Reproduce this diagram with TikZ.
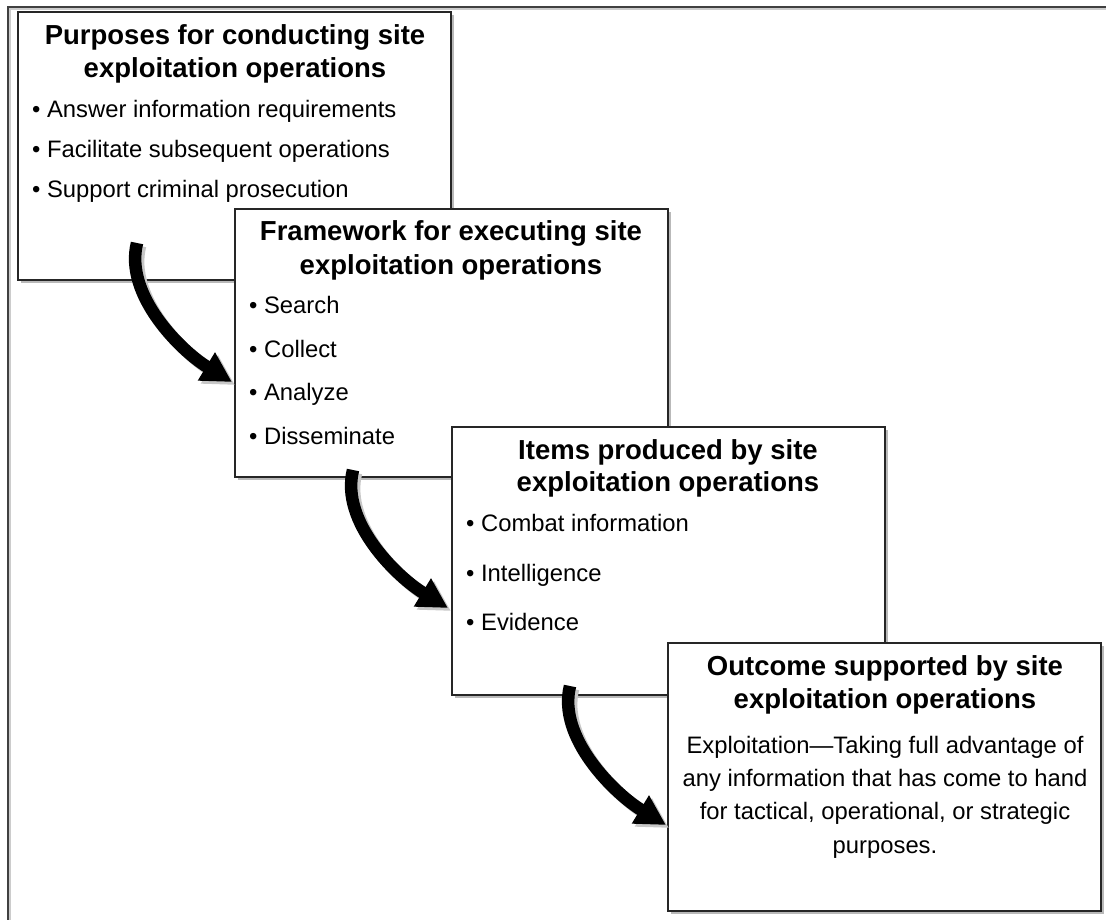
\documentclass[tikz,border=0pt]{standalone}
\usepackage{fontspec}
\setmainfont{Liberation Sans}
\usetikzlibrary{arrows.meta,shadows,calc}
\begin{document}
\begin{tikzpicture}[x=1pt,y=-1pt,
  box/.style={draw=black!85, line width=1.3pt, fill=white, inner sep=0pt, outer sep=0pt,
    anchor=north west, minimum width=433pt, minimum height=268pt,
    drop shadow={shadow xshift=3pt, shadow yshift=-3pt, fill=black!50, opacity=0.55}},
  ttl/.style={font=\fontsize{27.5}{33}\selectfont\bfseries, anchor=base, inner sep=0pt},
  itm/.style={font=\fontsize{23.8}{33}\selectfont, anchor=base west, inner sep=0pt},
  ctr/.style={font=\fontsize{23.8}{33}\selectfont, anchor=base, inner sep=0pt},
  flow/.style={line width=12.5pt, draw=black, -{Triangle[length=30pt,width=31pt]},
    preaction={draw=black!22, line width=12.5pt, -{Triangle[length=30pt,width=31pt]},
      transform canvas={xshift=3pt,yshift=-3pt}}},
  frame/.style={draw=black!75, line width=2pt}]
\useasboundingbox (0,0) rectangle (1106,920);
% outer frame
\coordinate (f1) at (8,920);
\coordinate (f2) at (8,7);
\coordinate (f3) at (1106,7);
\draw[black!20, line width=2pt] (10,920) -- (10,9) -- (1106,9);
\draw[frame] (f1) -- (f2) -- (f3);
% boxes
\node[box] (b1) at (18,12) {};
\node[box] (b2) at (235,209) {};
\node[box] (b3) at (452,427) {};
\node[box] (b4) at (668,643) {};
% box 1 text
\node[ttl] (t1a) at (235,45) {Purposes for conducting site};
\node[ttl] (t1b) at (235,78) {exploitation operations};
\node[itm] (i1a) at (32,118) {\textbullet\ Answer information requirements};
\node[itm] (i1b) at (32,158) {\textbullet\ Facilitate subsequent operations};
\node[itm] (i1c) at (32,198) {\textbullet\ Support criminal prosecution};
% box 2 text
\node[ttl] (t2a) at (451,241) {Framework for executing site};
\node[ttl] (t2b) at (451,274) {exploitation operations};
\node[itm] (i2a) at (249,313) {\textbullet\ Search};
\node[itm] (i2b) at (249,357) {\textbullet\ Collect};
\node[itm] (i2c) at (249,400) {\textbullet\ Analyze};
\node[itm] (i2d) at (249,444) {\textbullet\ Disseminate};
% box 3 text
\node[ttl] (t3a) at (668,459) {Items produced by site};
\node[ttl] (t3b) at (668,491) {exploitation operations};
\node[itm] (i3a) at (466,531) {\textbullet\ Combat information};
\node[itm] (i3b) at (466,581) {\textbullet\ Intelligence};
\node[itm] (i3c) at (466,630) {\textbullet\ Evidence};
% box 4 text
\node[ttl] (t4a) at (885,675) {Outcome supported by site};
\node[ttl] (t4b) at (885,708) {exploitation operations};
\node[ctr] (p4a) at (885,753) {Exploitation—Taking full advantage of};
\node[ctr] (p4b) at (885,786) {any information that has come to hand};
\node[ctr] (p4c) at (885,819) {for tactical, operational, or strategic};
\node[ctr] (p4d) at (885,853) {purposes.};
% arrows
\coordinate (a1s) at (137,243);
\coordinate (a1e) at (232,382);
\coordinate (a2s) at (353,470);
\coordinate (a2e) at (448,608);
\coordinate (a3s) at (570,686);
\coordinate (a3e) at (666,825);
\draw[flow] (a1s) .. controls ($(a1s)+(-13,52)$) and ($(a1e)+(-51,-31)$) .. (a1e);
\draw[flow] (a2s) .. controls ($(a2s)+(-13,52)$) and ($(a2e)+(-51,-31)$) .. (a2e);
\draw[flow] (a3s) .. controls ($(a3s)+(-13,52)$) and ($(a3e)+(-51,-31)$) .. (a3e);
\end{tikzpicture}
\end{document}
